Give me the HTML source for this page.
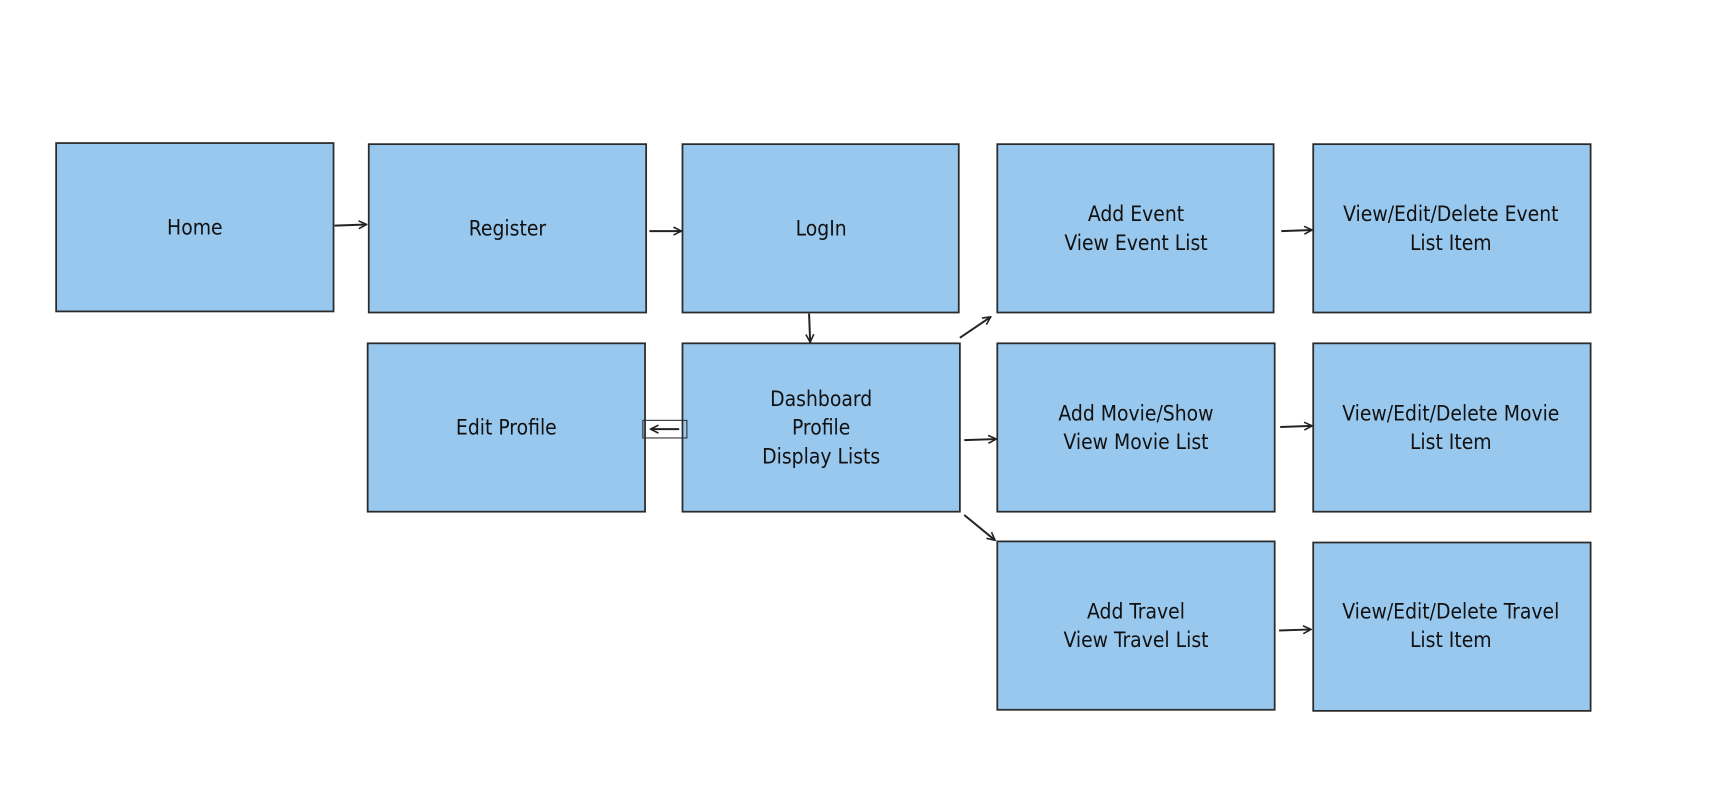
<!DOCTYPE html>
<html><head><meta charset="utf-8"><style>
html,body{margin:0;padding:0;background:#fff;width:1726px;height:800px;overflow:hidden}
text{font-family:"Comic Sans MS","DejaVu Sans Condensed","Liberation Sans",sans-serif;font-size:19px;fill:#111;text-anchor:middle}
rect.b{fill:#99c8ee;stroke:#2b2b2b;stroke-width:1.6}
line{stroke:#222;stroke-width:1.8}
</style></head><body>
<svg width="1726" height="800" viewBox="0 0 1568 727" preserveAspectRatio="none" xmlns="http://www.w3.org/2000/svg">
<defs><marker id="a" viewBox="0 0 10 10" refX="9" refY="5" markerWidth="9" markerHeight="9" orient="auto" markerUnits="userSpaceOnUse"><path d="M1,1 L9,5 L1,9" fill="none" stroke="#222" stroke-width="1.6"/></marker></defs>
<rect class="b" x="51" y="130" width="252" height="153"/>
<rect class="b" x="335" y="131" width="252" height="153"/>
<rect class="b" x="620" y="131" width="251" height="153"/>
<rect class="b" x="906" y="131" width="251" height="153"/>
<rect class="b" x="1193" y="131" width="252" height="153"/>
<rect class="b" x="334" y="312" width="252" height="153"/>
<rect class="b" x="620" y="312" width="252" height="153"/>
<rect class="b" x="906" y="312" width="252" height="153"/>
<rect class="b" x="1193" y="312" width="252" height="153"/>
<rect class="b" x="906" y="492" width="252" height="153"/>
<rect class="b" x="1193" y="493" width="252" height="153"/>
<text x="177" y="213">Home</text>
<text x="461" y="214">Register</text>
<text x="746" y="214">LogIn</text>
<text x="1032" y="201">Add Event</text><text x="1032" y="227">View Event List</text>
<text x="1318" y="201">View/Edit/Delete Event</text><text x="1318" y="227">List Item</text>
<text x="460" y="395">Edit Profile</text>
<text x="746" y="369">Dashboard</text><text x="746" y="395">Profile</text><text x="746" y="421">Display Lists</text>
<text x="1032" y="382">Add Movie/Show</text><text x="1032" y="408">View Movie List</text>
<text x="1318" y="382">View/Edit/Delete Movie</text><text x="1318" y="408">List Item</text>
<text x="1032" y="562">Add Travel</text><text x="1032" y="588">View Travel List</text>
<text x="1318" y="562">View/Edit/Delete Travel</text><text x="1318" y="588">List Item</text>
<line x1="304" y1="205" x2="333" y2="204" marker-end="url(#a)"/>
<line x1="590" y1="210" x2="619" y2="210" marker-end="url(#a)"/>
<line x1="735" y1="285" x2="736" y2="311" marker-end="url(#a)"/>
<line x1="1164" y1="210" x2="1192" y2="209" marker-end="url(#a)"/>
<rect x="584" y="382" width="40" height="16" fill="none" stroke="#333" stroke-width="1"/>
<line x1="617" y1="390" x2="591" y2="390" marker-end="url(#a)"/>
<line x1="872" y1="307" x2="900" y2="288" marker-end="url(#a)"/>
<line x1="876" y1="400" x2="905" y2="399" marker-end="url(#a)"/>
<line x1="876" y1="468" x2="904" y2="491" marker-end="url(#a)"/>
<line x1="1163" y1="388" x2="1192" y2="387" marker-end="url(#a)"/>
<line x1="1162" y1="573" x2="1191" y2="572" marker-end="url(#a)"/>
</svg>
</body></html>
